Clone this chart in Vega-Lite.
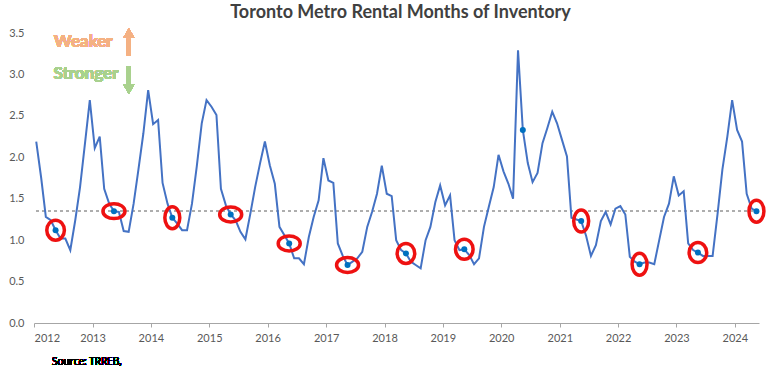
{
  "$schema": "https://vega.github.io/schema/vega-lite/v6.json",
  "width": 725,
  "height": 290,
  "autosize": {"type": "none"},
  "padding": {"left": 34, "top": 33, "right": 13, "bottom": 55},
  "background": "white",
  "config": {"view": {"stroke": null}, "font": "Lato"},
  "title": {"text": "Toronto Metro Rental Months of Inventory", "font": "Lato", "fontSize": 18, "fontWeight": "bold", "color": "#404040", "anchor": "middle", "baseline": "top", "offset": 5, "dx": 4},
  "data": {
    "format": {"parse": {"date": "date"}},
    "values": [
      {"date": "2012-01-15", "v": 2.19}, {"date": "2012-02-15", "v": 1.75}, {"date": "2012-03-15", "v": 1.28}, {"date": "2012-04-15", "v": 1.24}, {"date": "2012-05-15", "v": 1.12}, {"date": "2012-06-15", "v": 1.02}, {"date": "2012-07-15", "v": 1.02}, {"date": "2012-08-15", "v": 0.88}, {"date": "2012-09-15", "v": 1.24}, {"date": "2012-10-15", "v": 1.64}, {"date": "2012-11-15", "v": 2.17}, {"date": "2012-12-15", "v": 2.69},
      {"date": "2013-01-15", "v": 2.11}, {"date": "2013-02-15", "v": 2.25}, {"date": "2013-03-15", "v": 1.62}, {"date": "2013-04-15", "v": 1.44}, {"date": "2013-05-15", "v": 1.35}, {"date": "2013-06-15", "v": 1.34}, {"date": "2013-07-15", "v": 1.11}, {"date": "2013-08-15", "v": 1.10}, {"date": "2013-09-15", "v": 1.44}, {"date": "2013-10-15", "v": 1.85}, {"date": "2013-11-15", "v": 2.29}, {"date": "2013-12-15", "v": 2.81},
      {"date": "2014-01-15", "v": 2.40}, {"date": "2014-02-15", "v": 2.45}, {"date": "2014-03-15", "v": 1.69}, {"date": "2014-04-15", "v": 1.44}, {"date": "2014-05-15", "v": 1.27}, {"date": "2014-06-15", "v": 1.20}, {"date": "2014-07-15", "v": 1.12}, {"date": "2014-08-15", "v": 1.12}, {"date": "2014-09-15", "v": 1.44}, {"date": "2014-10-15", "v": 1.89}, {"date": "2014-11-15", "v": 2.41}, {"date": "2014-12-15", "v": 2.69},
      {"date": "2015-01-15", "v": 2.61}, {"date": "2015-02-15", "v": 2.51}, {"date": "2015-03-15", "v": 1.62}, {"date": "2015-04-15", "v": 1.42}, {"date": "2015-05-15", "v": 1.31}, {"date": "2015-06-15", "v": 1.24}, {"date": "2015-07-15", "v": 1.10}, {"date": "2015-08-15", "v": 1.01}, {"date": "2015-09-15", "v": 1.32}, {"date": "2015-10-15", "v": 1.64}, {"date": "2015-11-15", "v": 1.93}, {"date": "2015-12-15", "v": 2.19},
      {"date": "2016-01-15", "v": 1.90}, {"date": "2016-02-15", "v": 1.68}, {"date": "2016-03-15", "v": 1.16}, {"date": "2016-04-15", "v": 1.06}, {"date": "2016-05-15", "v": 0.96}, {"date": "2016-06-15", "v": 0.78}, {"date": "2016-07-15", "v": 0.78}, {"date": "2016-08-15", "v": 0.71}, {"date": "2016-09-15", "v": 1.04}, {"date": "2016-10-15", "v": 1.28}, {"date": "2016-11-15", "v": 1.48}, {"date": "2016-12-15", "v": 1.99},
      {"date": "2017-01-15", "v": 1.72}, {"date": "2017-02-15", "v": 1.69}, {"date": "2017-03-15", "v": 0.96}, {"date": "2017-04-15", "v": 0.81}, {"date": "2017-05-15", "v": 0.70}, {"date": "2017-06-15", "v": 0.74}, {"date": "2017-07-15", "v": 0.78}, {"date": "2017-08-15", "v": 0.86}, {"date": "2017-09-15", "v": 1.16}, {"date": "2017-10-15", "v": 1.34}, {"date": "2017-11-15", "v": 1.56}, {"date": "2017-12-15", "v": 1.90},
      {"date": "2018-01-15", "v": 1.56}, {"date": "2018-02-15", "v": 1.53}, {"date": "2018-03-15", "v": 1.00}, {"date": "2018-04-15", "v": 0.88}, {"date": "2018-05-15", "v": 0.84}, {"date": "2018-06-15", "v": 0.74}, {"date": "2018-07-15", "v": 0.70}, {"date": "2018-08-15", "v": 0.66}, {"date": "2018-09-15", "v": 1.00}, {"date": "2018-10-15", "v": 1.16}, {"date": "2018-11-15", "v": 1.46}, {"date": "2018-12-15", "v": 1.66},
      {"date": "2019-01-15", "v": 1.42}, {"date": "2019-02-15", "v": 1.54}, {"date": "2019-03-15", "v": 1.00}, {"date": "2019-04-15", "v": 0.88}, {"date": "2019-05-15", "v": 0.89}, {"date": "2019-06-15", "v": 0.82}, {"date": "2019-07-15", "v": 0.71}, {"date": "2019-08-15", "v": 0.78}, {"date": "2019-09-15", "v": 1.16}, {"date": "2019-10-15", "v": 1.40}, {"date": "2019-11-15", "v": 1.64}, {"date": "2019-12-15", "v": 2.03},
      {"date": "2020-01-15", "v": 1.83}, {"date": "2020-02-15", "v": 1.68}, {"date": "2020-03-15", "v": 1.50}, {"date": "2020-04-15", "v": 3.29}, {"date": "2020-05-15", "v": 2.33}, {"date": "2020-06-15", "v": 1.93}, {"date": "2020-07-15", "v": 1.70}, {"date": "2020-08-15", "v": 1.81}, {"date": "2020-09-15", "v": 2.17}, {"date": "2020-10-15", "v": 2.35}, {"date": "2020-11-15", "v": 2.55}, {"date": "2020-12-15", "v": 2.41},
      {"date": "2021-01-15", "v": 2.21}, {"date": "2021-02-15", "v": 2.01}, {"date": "2021-03-15", "v": 1.27}, {"date": "2021-04-15", "v": 1.25}, {"date": "2021-05-15", "v": 1.23}, {"date": "2021-06-15", "v": 1.05}, {"date": "2021-07-15", "v": 0.81}, {"date": "2021-08-15", "v": 0.94}, {"date": "2021-09-15", "v": 1.23}, {"date": "2021-10-15", "v": 1.34}, {"date": "2021-11-15", "v": 1.19}, {"date": "2021-12-15", "v": 1.38},
      {"date": "2022-01-15", "v": 1.41}, {"date": "2022-02-15", "v": 1.31}, {"date": "2022-03-15", "v": 0.80}, {"date": "2022-04-15", "v": 0.74}, {"date": "2022-05-15", "v": 0.71}, {"date": "2022-06-15", "v": 0.73}, {"date": "2022-07-15", "v": 0.73}, {"date": "2022-08-15", "v": 0.71}, {"date": "2022-09-15", "v": 1.00}, {"date": "2022-10-15", "v": 1.28}, {"date": "2022-11-15", "v": 1.44}, {"date": "2022-12-15", "v": 1.77},
      {"date": "2023-01-15", "v": 1.54}, {"date": "2023-02-15", "v": 1.59}, {"date": "2023-03-15", "v": 0.96}, {"date": "2023-04-15", "v": 0.88}, {"date": "2023-05-15", "v": 0.85}, {"date": "2023-06-15", "v": 0.81}, {"date": "2023-07-15", "v": 0.81}, {"date": "2023-08-15", "v": 0.81}, {"date": "2023-09-15", "v": 1.32}, {"date": "2023-10-15", "v": 1.85}, {"date": "2023-11-15", "v": 2.25}, {"date": "2023-12-15", "v": 2.69},
      {"date": "2024-01-15", "v": 2.33}, {"date": "2024-02-15", "v": 2.19}, {"date": "2024-03-15", "v": 1.56}, {"date": "2024-04-15", "v": 1.38}, {"date": "2024-05-15", "v": 1.35}
    ]
  },
  "encoding": {
    "x": {
      "field": "date", "type": "temporal",
      "scale": {"domain": [{"year": 2012, "month": 1, "date": 1}, {"year": 2024, "month": 5, "date": 31}]},
      "axis": {"format": "%Y", "tickCount": {"interval": "year", "step": 1}, "grid": false, "title": null, "domainColor": "#A6A6A6", "tickColor": "#A6A6A6", "tickSize": 4, "labelColor": "#595959", "labelFont": "Lato", "labelFontSize": 11, "labelPadding": 5, "labelDx": 2}
    },
    "y": {
      "field": "v", "type": "quantitative",
      "scale": {"domain": [0, 3.5]},
      "axis": {"values": [0, 0.5, 1, 1.5, 2, 2.5, 3, 3.5], "format": ".1f", "grid": false, "domain": false, "ticks": false, "title": null, "labelColor": "#595959", "labelFont": "Lato", "labelFontSize": 11, "labelPadding": 10}
    }
  },
  "layer": [
    {"mark": {"type": "rule", "color": "#ADADAD", "strokeDash": [3, 3], "strokeWidth": 1}, "encoding": {"x": null, "y": {"datum": 1.35}}},
    {"mark": {"type": "line", "color": "#4472C4", "strokeWidth": 2}},
    {"transform": [{"filter": "month(datum.date) === 4"}], "mark": {"type": "point", "filled": true, "color": "#0070C0", "size": 36, "opacity": 1}},
    {"transform": [{"filter": "month(datum.date) === 4 && indexof([2013, 2015, 2016, 2017], year(datum.date)) >= 0"}], "mark": {"type": "point", "shape": "M -1 0 A 1 0.68 0 1 1 1 0 A 1 0.68 0 1 1 -1 0 Z", "size": 484, "filled": false, "stroke": "#EE1111", "strokeWidth": 3.5, "opacity": 1}},
    {"transform": [{"filter": "month(datum.date) === 4 && indexof([2014, 2021, 2022, 2024], year(datum.date)) >= 0"}], "mark": {"type": "point", "shape": "M 0 -1 A 0.68 1 0 1 1 0 1 A 0.68 1 0 1 1 0 -1 Z", "size": 484, "filled": false, "stroke": "#EE1111", "strokeWidth": 3.5, "opacity": 1}},
    {"transform": [{"filter": "month(datum.date) === 4 && indexof([2012, 2018, 2019, 2023], year(datum.date)) >= 0"}], "mark": {"type": "point", "shape": "M 0 -1 A 0.88 1 0 1 1 0 1 A 0.88 1 0 1 1 0 -1 Z", "size": 400, "filled": false, "stroke": "#EE1111", "strokeWidth": 3.5, "opacity": 1}},
    {"mark": {"type": "text", "text": "Weaker", "font": "Lato", "fontSize": 17, "fontWeight": "bold", "color": "#F4B183", "align": "center", "baseline": "middle"}, "encoding": {"x": {"datum": {"year": 2012, "month": 11, "date": 5}}, "y": {"datum": 3.39}}},
    {"mark": {"type": "text", "text": "Stronger", "font": "Lato", "fontSize": 17, "fontWeight": "bold", "color": "#A9D18E", "align": "center", "baseline": "middle"}, "encoding": {"x": {"datum": {"year": 2012, "month": 11, "date": 21}}, "y": {"datum": 3.01}}},
    {"mark": {"type": "rule", "color": "#F4B183", "strokeWidth": 4}, "encoding": {"x": {"datum": {"year": 2013, "month": 8, "date": 16}}, "y": {"datum": 3.23}, "y2": {"datum": 3.43}}},
    {"mark": {"type": "point", "shape": "triangle-up", "filled": true, "color": "#F4B183", "size": 121, "opacity": 1}, "encoding": {"x": {"datum": {"year": 2013, "month": 8, "date": 16}}, "y": {"datum": 3.5}}},
    {"mark": {"type": "rule", "color": "#A9D18E", "strokeWidth": 4}, "encoding": {"x": {"datum": {"year": 2013, "month": 8, "date": 16}}, "y": {"datum": 3.1}, "y2": {"datum": 2.88}}},
    {"mark": {"type": "point", "shape": "triangle-down", "filled": true, "color": "#A9D18E", "size": 121, "opacity": 1}, "encoding": {"x": {"datum": {"year": 2013, "month": 8, "date": 16}}, "y": {"datum": 2.82}}},
    {"mark": {"type": "text", "text": "Source: TRREB,", "font": "Open Sans", "fontSize": 10, "color": "#000000", "align": "left", "baseline": "middle"}, "encoding": {"x": {"datum": {"year": 2012, "month": 4, "date": 22}}, "y": {"datum": -0.47}}}
  ]
}
